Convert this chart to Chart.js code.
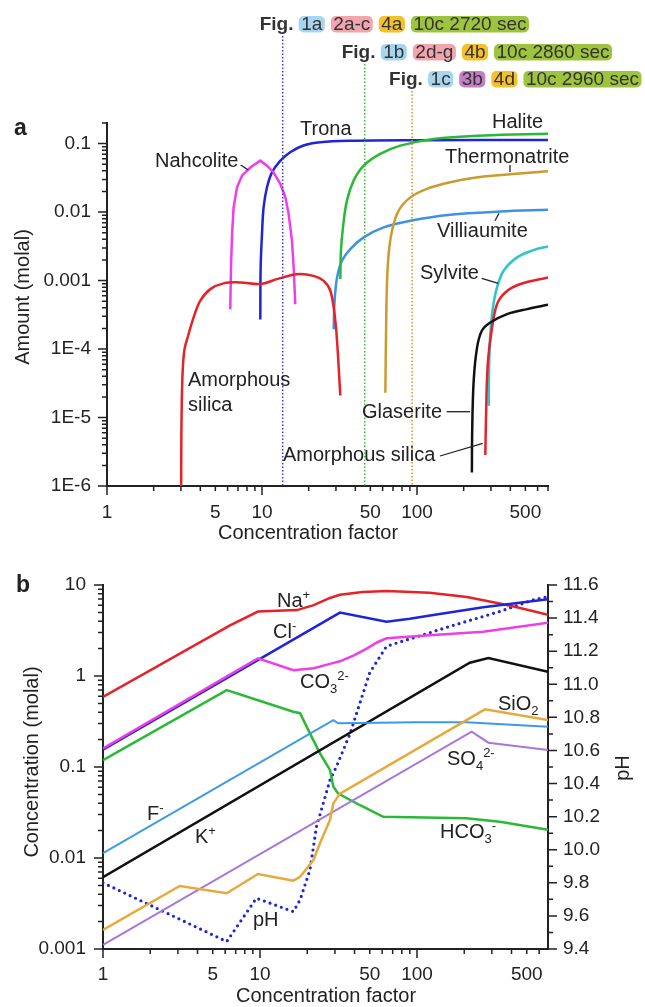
<!DOCTYPE html>
<html>
<head>
<meta charset="utf-8">
<script src="https://cdn.jsdelivr.net/npm/chart.js@4.4.0/dist/chart.umd.min.js"></script>
<style>
  html, body { margin: 0; padding: 0; background: #fff; }
  body { width: 645px; height: 1007px; position: relative; overflow: hidden; }
  canvas { position: absolute; left: 0; }
  #chartA { top: 0; }
  #chartB { top: 548px; }
</style>
</head>
<body>
<canvas id="chartA" width="645" height="548"></canvas>
<canvas id="chartB" width="645" height="459"></canvas>
<script>
// ---------- panel a : mineral amounts vs concentration factor ----------
const silica1X = [3.01, 3.02, 3.06, 3.15, 3.36, 3.62, 4.0, 4.64, 5.65, 7.25, 9.75, 12.5, 16.8, 21.5, 25.0, 27.6, 29.4, 30.5, 32.0];
const silica1Y = [1e-6, 6.4e-6, 3.4e-5, 9.4e-5, 1.65e-4, 2.9e-4, 5.1e-4, 7.5e-4, 9.1e-4, 9.4e-4, 8.9e-4, 1.05e-3, 1.24e-3, 1.17e-3, 9.9e-4, 7.1e-4, 3.2e-4, 1.3e-4, 2.1e-5];
const nahcoliteX = [6.24, 6.31, 6.41, 6.56, 6.90, 7.43, 8.41, 9.75, 10.77, 11.88, 13.12, 14.15, 14.85, 15.61, 16.0, 16.4];
const nahcoliteY = [3.8e-4, 1.56e-3, 4.8e-3, 0.0117, 0.023, 0.034, 0.045, 0.0564, 0.0477, 0.038, 0.0258, 0.0164, 9.4e-3, 3.8e-3, 1.56e-3, 4.5e-4];
const tronaX = [9.75, 9.8, 10.0, 10.24, 10.77, 11.6, 13.1, 15.2, 18.5, 23.8, 37, 100, 700];
const tronaY = [2.7e-4, 1.56e-3, 4.8e-3, 0.0117, 0.023, 0.038, 0.056, 0.075, 0.094, 0.105, 0.110, 0.112, 0.113];
const haliteX = [32.0, 32.3, 33.3, 35.3, 39.0, 45.3, 57.9, 78.0, 128, 269, 700];
const haliteY = [1.05e-3, 2.7e-3, 6.0e-3, 0.0147, 0.0288, 0.0477, 0.0707, 0.0935, 0.117, 0.131, 0.139];
const thermoX = [62.5, 63.1, 64.0, 65.6, 69.0, 76.1, 90.6, 116, 164, 269, 700];
const thermoY = [2.3e-5, 1.65e-4, 8.9e-4, 2.44e-3, 5.35e-3, 0.0105, 0.0164, 0.0218, 0.0272, 0.033, 0.0394];
const villiX = [29.0, 29.4, 30.5, 32.8, 37.1, 45.3, 60.9, 90.6, 164, 344, 700];
const villiY = [1.95e-4, 5.1e-4, 1.11e-3, 1.95e-3, 2.88e-3, 4.27e-3, 5.97e-3, 7.48e-3, 9.16e-3, 0.0102, 0.0108];
const sylviteX = [290, 292, 297, 309, 328, 362, 442, 565, 700];
const sylviteY = [1.48e-5, 6.0e-5, 1.65e-4, 4.05e-4, 7.9e-4, 1.39e-3, 2.18e-3, 2.79e-3, 3.15e-3];
const silica2X = [276, 279, 286, 305, 328, 371, 464, 700];
const silica2Y = [2.84e-6, 1.12e-5, 6.0e-5, 2.06e-4, 4.5e-4, 6.7e-4, 8.9e-4, 1.11e-3];
const glaseriteX = [226, 227, 232, 244, 262, 297, 381, 513, 700];
const glaseriteY = [1.57e-6, 6.4e-6, 3.4e-5, 1.05e-4, 1.85e-4, 2.44e-4, 3.24e-4, 3.83e-4, 4.43e-4];

// concentration factors marked by the dotted lines (Fig. rows)
const markX = [13.6, 46, 93];
const figRows = [
  ['1a', '2a-c', '4a', '10c 2720 sec'],
  ['1b', '2d-g', '4b', '10c 2860 sec'],
  ['1c', '3b', '4d', '10c 2960 sec']
];

const xTickVals = [1, 5, 10, 50, 100, 500];
const yTickValsA = [0.1, 0.01, 0.001, 1e-4, 1e-5, 1e-6];
const yTickTextA = ['0.1', '0.01', '0.001', '1E-4', '1E-5', '1E-6'];

// ---------- panel b : solution composition ----------
const naX = [1, 6.44, 9.7, 17.2, 22, 27.9, 32.3, 45, 64.5, 120, 208, 330, 433, 683];
const naY = [0.59, 3.6, 5.1, 5.3, 6.0, 7.2, 7.8, 8.4, 8.6, 8.2, 7.4, 6.3, 5.7, 4.7];
const clX = [1, 32.3, 64, 90, 127, 264, 683];
const clY = [0.155, 4.97, 3.95, 4.25, 4.68, 5.7, 6.96];
const co3X = [1, 9.7, 16.3, 22, 27.9, 32.3, 40, 47.8, 56, 64, 127, 264, 683];
const co3Y = [0.16, 1.56, 1.16, 1.22, 1.36, 1.45, 1.7, 2.0, 2.35, 2.6, 2.82, 3.07, 3.86];
const hco3X = [1, 6.14, 16.3, 18, 20.8, 24.1, 27.9, 29.3, 31.5, 43.4, 61, 206, 337, 683];
const hco3Y = [0.119, 0.70, 0.405, 0.39, 0.234, 0.141, 0.093, 0.061, 0.051, 0.038, 0.0284, 0.0273, 0.025, 0.0204];
const fX = [1, 29.3, 31.5, 100, 206, 683];
const fY = [0.0113, 0.328, 0.302, 0.31, 0.31, 0.277];
const kX = [1, 217, 285, 683];
const kY = [0.00614, 1.40, 1.58, 1.11];
const sio2X = [1, 3.08, 6.14, 9.7, 16.3, 18, 20.8, 21.9, 24.1, 27.9, 29.3, 32.3, 271, 683];
const sio2Y = [0.00162, 0.00492, 0.0041, 0.00667, 0.00563, 0.0062, 0.0085, 0.0095, 0.0145, 0.0262, 0.0398, 0.051, 0.43, 0.328];
const so4X = [1, 223, 285, 683];
const so4Y = [0.00111, 0.244, 0.185, 0.154];
const phX = [1, 6.14, 9.48, 16.3, 18, 20.8, 22.9, 27.9, 30.6, 37.4, 50, 64, 162, 337, 550, 683];
const phY = [9.80, 9.445, 9.707, 9.626, 9.697, 9.878, 10.14, 10.42, 10.50, 10.70, 11.07, 11.23, 11.35, 11.44, 11.51, 11.53];

const yTickValsB = [10, 1, 0.1, 0.01, 0.001];
const yTickTextB = ['10', '1', '0.1', '0.01', '0.001'];

// ---------- styling ----------
const FONT = '"Liberation Sans", Arial, Helvetica, sans-serif';
const INK = '#222';
const RED = '#e42228', MAGENTA = '#ee3ee6', BLUE = '#1f24d8', GREEN = '#29b934',
      GOLD = '#cc9b30', LBLUE = '#3e92e6', CYAN = '#30c3ca', BLACK = '#111111',
      ORANGE = '#e6a93b', PURPLE = '#a776dc', FBLUE = '#3d9ae4';
const boxColors = { '1': '#a7d5ef', '2': '#f1a5ae', '3': '#c47fc4', '4': '#f5c12b', '10': '#9dc33f' };

const near = (v, list) => list.findIndex(t => Math.abs(v - t) / t < 1e-6);
const pts = (xs, ys) => xs.map((x, i) => ({ x, y: ys[i] }));

function line(xs, ys, color, opts = {}) {
  return Object.assign({
    data: pts(xs, ys), borderColor: color, borderWidth: 2.5, pointRadius: 0,
    fill: false, tension: 0
  }, opts);
}
const smooth = { cubicInterpolationMode: 'default', tension: 0.35 };

function logTicks(min, max) {
  const out = [];
  for (let e = Math.floor(Math.log10(min) + 1e-9); e <= Math.ceil(Math.log10(max)); e++) {
    for (let m = 1; m <= 9; m++) {
      const v = m * Math.pow(10, e);
      if (v >= min * (1 - 1e-9) && v <= max * (1 + 1e-9)) out.push({ v, major: m === 1 });
    }
  }
  return out;
}

function drawTicks(ctx, scale, side, list) {
  ctx.save();
  ctx.strokeStyle = INK;
  ctx.lineWidth = 1.5;
  ctx.beginPath();
  list.forEach(t => {
    const len = t.major ? 9 : 5;
    const p = scale.getPixelForValue(t.v);
    if (side === 'bottom') { ctx.moveTo(p, scale.top); ctx.lineTo(p, scale.top + len); }
    if (side === 'left') { ctx.moveTo(scale.right, p); ctx.lineTo(scale.right - len, p); }
    if (side === 'right') { ctx.moveTo(scale.left, p); ctx.lineTo(scale.left + len, p); }
  });
  ctx.stroke();
  ctx.restore();
}

// text with sub/superscripts: parts = [[text, ''|'sub'|'sup'], ...]
function rich(ctx, parts, x, y, size) {
  let cx = x;
  ctx.textAlign = 'left';
  ctx.textBaseline = 'alphabetic';
  parts.forEach(([s, k]) => {
    const fs = k ? Math.round(size * 0.65) : size;
    ctx.font = fs + 'px ' + FONT;
    const dy = k === 'sub' ? size * 0.25 : (k === 'sup' ? -size * 0.42 : 0);
    ctx.fillText(s, cx, y + dy);
    cx += ctx.measureText(s).width;
  });
}

function vtitle(ctx, str, x, y) {
  ctx.save();
  ctx.translate(x, y);
  ctx.rotate(-Math.PI / 2);
  ctx.font = '20px ' + FONT;
  ctx.textAlign = 'center';
  ctx.textBaseline = 'middle';
  ctx.fillText(str, 0, 0);
  ctx.restore();
}

function seg(ctx, x1, y1, x2, y2) {
  ctx.beginPath(); ctx.moveTo(x1, y1); ctx.lineTo(x2, y2); ctx.stroke();
}

function roundBox(ctx, x, y, w, h, r) {
  ctx.beginPath();
  ctx.moveTo(x + r, y);
  ctx.arcTo(x + w, y, x + w, y + h, r);
  ctx.arcTo(x + w, y + h, x, y + h, r);
  ctx.arcTo(x, y + h, x, y, r);
  ctx.arcTo(x, y, x + w, y, r);
  ctx.closePath();
  ctx.fill();
}

// ---------- panel a decorations ----------
const decorA = {
  id: 'decorA',
  afterDraw(chart) {
    const { ctx, chartArea, scales: { x, y } } = chart;
    drawTicks(ctx, x, 'bottom', logTicks(1, 700));
    drawTicks(ctx, y, 'left', logTicks(1e-6, 0.2));

    const rowY = [24, 52, 79];
    const markColors = ['#3a3ad6', '#36c03a', '#c9962f'];
    ctx.save();
    figRows.forEach((row, r) => {
      const lx = x.getPixelForValue(markX[r]);
      // dotted marker line
      ctx.strokeStyle = markColors[r];
      ctx.lineWidth = 1.5;
      ctx.setLineDash([1.5, 2]);
      seg(ctx, lx, rowY[r] + 12, lx, chartArea.bottom);
      ctx.setLineDash([]);
      // header row
      let cx = lx - 23;
      ctx.fillStyle = '#333';
      ctx.font = 'bold 19px ' + FONT;
      ctx.textBaseline = 'middle';
      ctx.textAlign = 'left';
      ctx.fillText('Fig.', cx, rowY[r] + 1);
      cx += 39;
      row.forEach(lbl => {
        ctx.font = '19px ' + FONT;
        const w = ctx.measureText(lbl).width + 5;
        ctx.fillStyle = boxColors[lbl.startsWith('10') ? '10' : lbl[0]];
        roundBox(ctx, cx, rowY[r] - 8, w, 16.5, 5);
        ctx.fillStyle = '#333';
        ctx.fillText(lbl, cx + 2.5, rowY[r] + 1);
        cx += w + 6;
      });
    });
    ctx.restore();

    ctx.save();
    ctx.fillStyle = INK;
    ctx.strokeStyle = INK;
    ctx.lineWidth = 1.3;
    ctx.font = 'bold 23px ' + FONT;
    ctx.textAlign = 'left';
    ctx.fillText('a', 14, 135);
    ctx.font = '20px ' + FONT;
    ctx.fillText('Trona', 300, 135);
    ctx.fillText('Nahcolite', 155, 167);
    ctx.fillText('Halite', 492, 128);
    ctx.fillText('Thermonatrite', 445, 163);
    ctx.fillText('Villiaumite', 437, 237);
    ctx.fillText('Sylvite', 420, 279);
    ctx.fillText('Amorphous', 188, 386);
    ctx.fillText('silica', 188, 411);
    ctx.fillText('Glaserite', 362, 418);
    ctx.fillText('Amorphous silica', 283, 461);
    seg(ctx, 240.7, 165, 248.3, 170);
    seg(ctx, 510, 165, 510, 172);
    seg(ctx, 499, 213.3, 495, 220.7);
    seg(ctx, 481.7, 278.3, 498.3, 283.3);
    seg(ctx, 446.7, 411.7, 470, 411.7);
    seg(ctx, 440, 456, 482.7, 443.3);

    vtitle(ctx, 'Amount (molal)', 23, 297);
    ctx.font = '20px ' + FONT;
    ctx.textAlign = 'center';
    ctx.textBaseline = 'middle';
    ctx.fillText('Concentration factor', 308, 533);
    ctx.restore();
  }
};

new Chart(document.getElementById('chartA'), {
  type: 'line',
  data: {
    datasets: [
      line(silica1X, silica1Y, RED, smooth),
      line(nahcoliteX, nahcoliteY, MAGENTA),
      line(haliteX, haliteY, GREEN, smooth),
      line(tronaX, tronaY, BLUE, smooth),
      line(thermoX, thermoY, GOLD, smooth),
      line(villiX, villiY, LBLUE, smooth),
      line(glaseriteX, glaseriteY, BLACK, smooth),
      line(silica2X, silica2Y, RED, smooth),
      line(sylviteX, sylviteY, CYAN, smooth)
    ]
  },
  options: {
    responsive: false,
    animation: false,
    devicePixelRatio: 1,
    layout: { padding: { top: 123, right: 97, left: 0, bottom: 0 } },
    plugins: { legend: { display: false }, tooltip: { enabled: false } },
    scales: {
      x: {
        type: 'logarithmic', min: 1, max: 700, position: 'bottom',
        grid: { display: false, drawTicks: false },
        border: { display: true, color: INK, width: 2 },
        ticks: {
          autoSkip: false, maxRotation: 0, minRotation: 0, padding: 15, color: INK,
          font: { size: 19, family: FONT },
          callback: v => near(v, xTickVals) >= 0 ? String(xTickVals[near(v, xTickVals)]) : ''
        },
        afterFit: s => { s.height = 62; }
      },
      y: {
        type: 'logarithmic', min: 1e-6, max: 0.2, position: 'left',
        grid: { display: false, drawTicks: false },
        border: { display: true, color: INK, width: 2 },
        ticks: {
          autoSkip: false, padding: 16, color: INK,
          font: { size: 19, family: FONT },
          callback: v => near(v, yTickValsA) >= 0 ? yTickTextA[near(v, yTickValsA)] : ''
        },
        afterFit: s => { s.width = 107; }
      }
    }
  },
  plugins: [decorA]
});

// ---------- panel b decorations ----------
const decorB = {
  id: 'decorB',
  afterDraw(chart) {
    const { ctx, scales: { x, y, y1 } } = chart;
    drawTicks(ctx, x, 'bottom', logTicks(1, 683));
    drawTicks(ctx, y, 'left', logTicks(0.001, 10));
    const phTicks = [];
    for (let i = 0; i <= 22; i++) phTicks.push({ v: 9.4 + i * 0.1, major: i % 2 === 0 });
    drawTicks(ctx, y1, 'right', phTicks);

    ctx.save();
    ctx.translate(0, -548);
    ctx.fillStyle = INK;
    ctx.font = 'bold 23px ' + FONT;
    ctx.textAlign = 'left';
    ctx.fillText('b', 16, 592);
    rich(ctx, [['Na', ''], ['+', 'sup']], 277, 607, 20);
    rich(ctx, [['Cl', ''], ['-', 'sup']], 273, 638, 20);
    rich(ctx, [['CO', ''], ['3', 'sub'], ['2-', 'sup']], 300, 688, 20);
    rich(ctx, [['SiO', ''], ['2', 'sub']], 498, 710, 20);
    rich(ctx, [['SO', ''], ['4', 'sub'], ['2-', 'sup']], 447, 765, 20);
    rich(ctx, [['HCO', ''], ['3', 'sub'], ['-', 'sup']], 440, 838, 20);
    rich(ctx, [['F', ''], ['-', 'sup']], 147, 820, 20);
    rich(ctx, [['K', ''], ['+', 'sup']], 195, 843, 20);
    rich(ctx, [['pH', '']], 253, 926, 20);

    vtitle(ctx, 'Concentration (molal)', 32, 762);
    vtitle(ctx, 'pH', 623, 768);
    ctx.font = '20px ' + FONT;
    ctx.textAlign = 'center';
    ctx.textBaseline = 'middle';
    ctx.fillText('Concentration factor', 326, 996);
    ctx.restore();
  }
};

new Chart(document.getElementById('chartB'), {
  type: 'line',
  data: {
    datasets: [
      line(sio2X, sio2Y, ORANGE),
      line(so4X, so4Y, PURPLE, { borderWidth: 2 }),
      line(fX, fY, FBLUE, { borderWidth: 2 }),
      line(kX, kY, BLACK),
      line(hco3X, hco3Y, GREEN),
      line(co3X, co3Y, MAGENTA),
      line(clX, clY, BLUE),
      line(naX, naY, RED),
      line(phX, phY, BLUE, { yAxisID: 'y1', borderWidth: 3.2, borderDash: [0, 6], borderCapStyle: 'round' })
    ]
  },
  options: {
    responsive: false,
    animation: false,
    devicePixelRatio: 1,
    layout: { padding: { top: 37, right: 0, left: 0, bottom: 0 } },
    plugins: { legend: { display: false }, tooltip: { enabled: false } },
    scales: {
      x: {
        type: 'logarithmic', min: 1, max: 683, position: 'bottom',
        grid: { display: false, drawTicks: false },
        border: { display: true, color: INK, width: 2 },
        ticks: {
          autoSkip: false, maxRotation: 0, minRotation: 0, padding: 14, color: INK,
          font: { size: 19, family: FONT },
          callback: v => near(v, xTickVals) >= 0 ? String(xTickVals[near(v, xTickVals)]) : ''
        },
        afterFit: s => { s.height = 58; }
      },
      y: {
        type: 'logarithmic', min: 0.001, max: 10, position: 'left',
        grid: { display: false, drawTicks: false },
        border: { display: true, color: INK, width: 2 },
        ticks: {
          autoSkip: false, padding: 17, color: INK,
          font: { size: 19, family: FONT },
          callback: v => near(v, yTickValsB) >= 0 ? yTickTextB[near(v, yTickValsB)] : ''
        },
        afterFit: s => { s.width = 103; }
      },
      y1: {
        type: 'linear', min: 9.4, max: 11.6, position: 'right',
        grid: { display: false, drawTicks: false },
        border: { display: true, color: INK, width: 2 },
        ticks: {
          stepSize: 0.2, autoSkip: false, padding: 15, color: INK,
          font: { size: 19, family: FONT },
          callback: v => v.toFixed(1)
        },
        afterFit: s => { s.width = 97; }
      }
    }
  },
  plugins: [decorB]
});
</script>
</body>
</html>
